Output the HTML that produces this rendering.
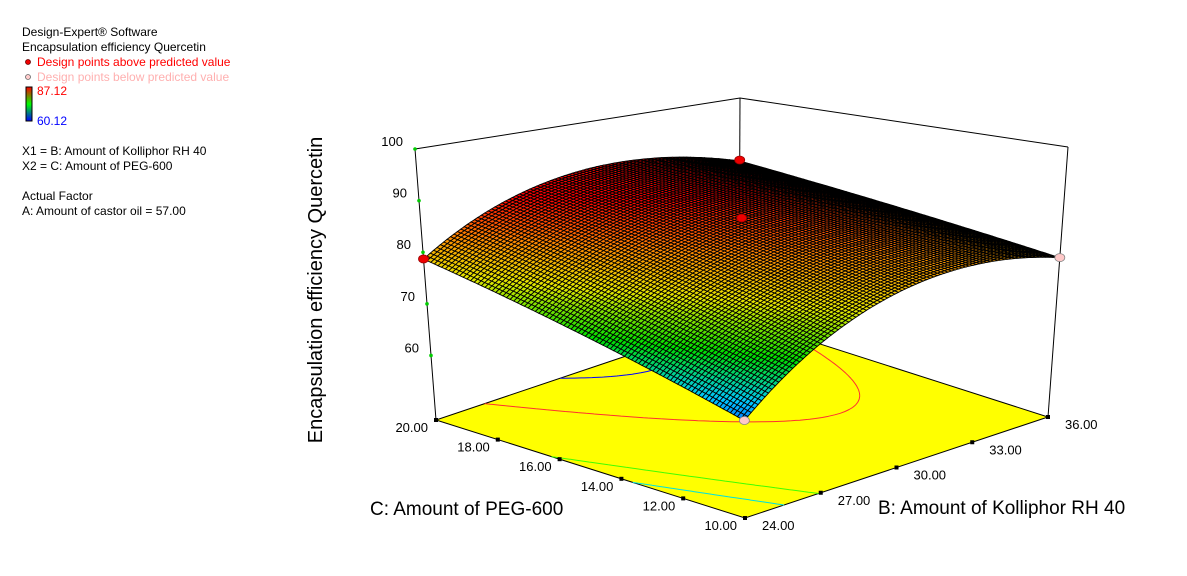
<!DOCTYPE html>
<html><head><meta charset="utf-8"><style>
body{margin:0;background:#fff;width:1187px;height:576px;overflow:hidden;font-family:"Liberation Sans",sans-serif}
svg{position:absolute;left:0;top:0}
</style></head><body>
<svg id="chart" width="1187" height="576">
<g font-size="12">
<text x="22" y="36">Design-Expert® Software</text>
<text x="22" y="51">Encapsulation efficiency Quercetin</text>
<circle cx="28" cy="62" r="2.5" fill="#e00" stroke="#600" stroke-width="0.8"/>
<text x="37" y="66" fill="#ff0000">Design points above predicted value</text>
<circle cx="28" cy="77" r="2.5" fill="#fcc" stroke="#666" stroke-width="0.8"/>
<text x="37" y="81" fill="#ffb0b0">Design points below predicted value</text>
<defs><linearGradient id="cb" x1="0" y1="0" x2="0" y2="1"><stop offset="0" stop-color="#f00"/><stop offset="0.5" stop-color="#0f0"/><stop offset="1" stop-color="#00f"/></linearGradient></defs>
<rect x="26" y="87" width="6" height="34" fill="url(#cb)" stroke="#000" stroke-width="1"/>
<text x="37" y="95" fill="#ff0000">87.12</text>
<text x="37" y="125" fill="#0000ff">60.12</text>
<text x="22" y="155">X1 = B: Amount of Kolliphor RH 40</text>
<text x="22" y="170">X2 = C: Amount of PEG-600</text>
<text x="22" y="200">Actual Factor</text>
<text x="22" y="215">A: Amount of castor oil = 57.00</text>
</g>
<text transform="translate(322,290) rotate(-90)" text-anchor="middle" font-size="20">Encapsulation efficiency Quercetin</text>
<text x="370" y="515" font-size="19">C: Amount of PEG-600</text>
<text x="878" y="514" font-size="19">B: Amount of Kolliphor RH 40</text>
<g id="plot"></g>
</svg>
<script>
const bTicks=[24,27,30,33,36];
const cTicks=[10,12,14,16,18,20];
const zTicks=[60,70,80,90,100];
const coef=[84.4,5.325,5.425,-2.175,-8,0]; // b0,b1,b2,b12,b11,b22 (coded)
const ptsB=[24,36,30,36,24];
const ptsC=[20,20,15,10,10];
const ptsZ=[78.7,85.2,86.4,78.5,63.5];
const ptsAbove=[1,1,1,0,0];
const contourLevels=[69,73,84,89];
const contourColors=["#00e0e0","#40ff00","#ff3030","#0000ff"];

const ZF=47.5,ZT=100;
const F={L:[436,420],Fr:[745,518],R:[1048,417],B:[739,318]};
const T={L:[415,149],Fr:[743,198],R:[1068,147],B:[740,98]};
function bil(Q,u,v){
  const x=(1-u)*(1-v)*Q.Fr[0]+u*(1-v)*Q.R[0]+(1-u)*v*Q.L[0]+u*v*Q.B[0];
  const y=(1-u)*(1-v)*Q.Fr[1]+u*(1-v)*Q.R[1]+(1-u)*v*Q.L[1]+u*v*Q.B[1];
  return [x,y];
}
function proj(b,c,z){
  const u=(b-24)/12,v=(c-10)/10,t=(z-ZF)/(ZT-ZF);
  const f=bil(F,u,v),g=bil(T,u,v);
  return [f[0]+(g[0]-f[0])*t,f[1]+(g[1]-f[1])*t];
}
function model(b,c){
  const x1=(b-30)/6,x2=(c-15)/5;
  return coef[0]+coef[1]*x1+coef[2]*x2+coef[3]*x1*x2+coef[4]*x1*x1+coef[5]*x2*x2;
}
function cmap(z){
  const t=Math.max(0,Math.min(1,(z-60.12)/27));
  const st=[[0,[0,0,255]],[0.2,[0,200,255]],[0.4,[0,220,0]],[0.62,[230,230,0]],[0.8,[255,140,0]],[1,[255,0,0]]];
  for(let i=1;i<st.length;i++){if(t<=st[i][0]){const a=st[i-1],b=st[i],k=(t-a[0])/(b[0]-a[0]);
    return 'rgb('+a[1].map((v,j)=>Math.round(v+(b[1][j]-v)*k)).join(',')+')';}}
  return 'rgb(255,0,0)';
}
const NS='http://www.w3.org/2000/svg',plot=document.getElementById('plot');
function el(tag,attrs,parent){const e=document.createElementNS(NS,tag);for(const k in attrs)e.setAttribute(k,attrs[k]);(parent||plot).appendChild(e);return e;}
const P=p=>p[0].toFixed(1)+','+p[1].toFixed(1);
const box=el('g',{stroke:'#000','stroke-width':1,fill:'none'});


el('polyline',{points:[T.L,T.B,T.R].map(P).join(' ')},box);
el('line',{x1:F.B[0],y1:F.B[1],x2:T.B[0],y2:T.B[1]},box);
el('line',{x1:F.L[0],y1:F.L[1],x2:T.L[0],y2:T.L[1]},box);
el('line',{x1:F.R[0],y1:F.R[1],x2:T.R[0],y2:T.R[1]},box);
const floor=el('polygon',{points:[F.L,F.Fr,F.R,F.B].map(P).join(' '),fill:'#ffff00',stroke:'#000','stroke-width':1});


const N=60;
function contour(level,color){
  const g=el('g',{stroke:color,'stroke-width':1,fill:'none'});
  
  
  let d='';
  for(let i=0;i<N;i++)for(let j=0;j<N;j++){
    const b0=24+12*i/N,b1=24+12*(i+1)/N,c0=10+10*j/N,c1=10+10*(j+1)/N;
    const cs=[[b0,c0],[b1,c0],[b1,c1],[b0,c1]],vs=cs.map(p=>model(p[0],p[1]));
    const pts=[];
    for(let k=0;k<4;k++){const a=vs[k],bb=vs[(k+1)%4];
      if((a-level)*(bb-level)<0){const t=(level-a)/(bb-a),p=cs[k],q=cs[(k+1)%4];
        pts.push(proj(p[0]+(q[0]-p[0])*t,p[1]+(q[1]-p[1])*t,ZF));}}
    if(pts.length>=2)d+='M'+P(pts[0])+'L'+P(pts[1]);
    if(pts.length==4)d+='M'+P(pts[2])+'L'+P(pts[3]);
  }
  el('path',{d:d},g);
}
contourLevels.forEach((l,i)=>contour(l,contourColors[i]));
cTicks.forEach(c=>{const p=proj(24,c,ZF);
  const d=el('rect',{x:p[0]-2,y:p[1]-2,width:4,height:4,fill:'#000'});
  
  const t=el('text',{x:p[0]-8,y:p[1]+12,'font-size':13,'text-anchor':'end'});
  
  t.textContent=c.toFixed(2);});
bTicks.forEach(b=>{const p=proj(b,10,ZF);
  const d=el('rect',{x:p[0]-2,y:p[1]-2,width:4,height:4,fill:'#000'});
  
  const t=el('text',{x:p[0]+17,y:p[1]+12,'font-size':13});
  
  t.textContent=b.toFixed(2);});
zTicks.forEach(z=>{const p=proj(24,20,z);
  const d=el('circle',{cx:p[0],cy:p[1],r:1.8,fill:'#0c0'});
  
  const t=el('text',{x:p[0]-12,y:p[1]-3,'font-size':13,'text-anchor':'end'});
  
  t.textContent=String(z);});
const surf=el('g',{stroke:'#000','stroke-width':0.9});


const M=90,cells=[];
for(let i=0;i<M;i++)for(let j=0;j<M;j++){
  const b0=24+12*i/M,b1=24+12*(i+1)/M,c0=10+10*j/M,c1=10+10*(j+1)/M;
  const q=[[b0,c0],[b1,c0],[b1,c1],[b0,c1]];
  const zs=q.map(p=>model(p[0],p[1]));
  cells.push({q,zs,depth:(i+j)});
}
cells.sort((a,b)=>b.depth-a.depth);
cells.forEach(c=>{const zm=(c.zs[0]+c.zs[1]+c.zs[2]+c.zs[3])/4;
  el('polygon',{points:c.q.map((p,k)=>P(proj(p[0],p[1],c.zs[k]))).join(' '),fill:cmap(zm)},surf);});
ptsB.forEach((b,i)=>{const p=proj(b,ptsC[i],ptsZ[i]);
  const d=el('ellipse',{cx:p[0],cy:p[1],rx:5,ry:4,fill:ptsAbove[i]?'#ee0000':'#ffc8c8',stroke:ptsAbove[i]?'#900':'#888','stroke-width':0.8});
  
  });
</script>
</body></html>
